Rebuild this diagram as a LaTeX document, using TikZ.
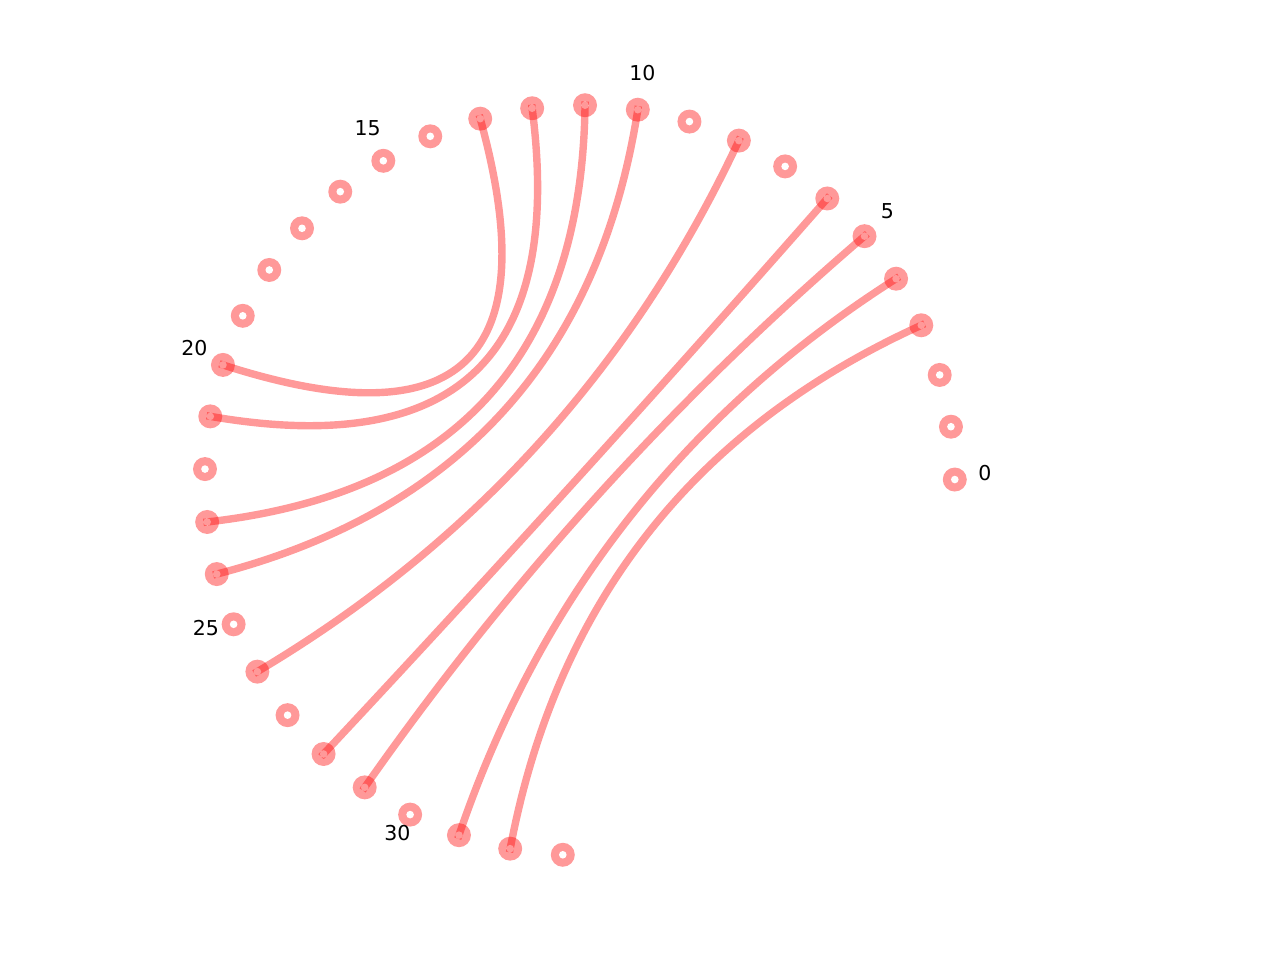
\documentclass[tikz,border=0pt]{standalone}
\usepackage{fontspec}
\setmainfont{DejaVu Sans}
\usetikzlibrary{calc}
\tikzset{
  vtx/.style={circle, fill=red, fill opacity=0.4, draw=none, minimum size=24pt, inner sep=0pt},
  hole/.style={fill=white},
  chord/.style={draw=red, draw opacity=0.4, line width=7.4pt, line cap=rect},
  lbl/.style={font=\fontsize{20.5}{24}\selectfont, inner sep=0pt, text=black}
}
\begin{document}
\begin{tikzpicture}[x=1pt,y=1pt]
\useasboundingbox (0,0) rectangle (1280,960);
\coordinate (C) at (579.8,479.8);
% nodes
\foreach \k in {0,...,33}{
  \node[vtx] (n\k) at ($(C)+({0.1+8.1*\k}:375)$) {};
}
\foreach \k in {0,...,33}{
  \fill[hole] (n\k.center) circle (3.8);
}
% chords (quadratic Bezier through the centre)
\foreach \a/\b in {13/20,12/21,11/23,10/24,8/26,6/28,5/29,4/31,3/32}{
  \draw[chord] (n\a.center) .. controls ($(n\a.center)!0.6667!(C)$) and ($(n\b.center)!0.6667!(C)$) .. (n\b.center);
}
% labels
\node[lbl] (l0)  at (985.0,487.3) {0};
\node[lbl] (l5)  at (887.3,749.3) {5};
\node[lbl] (l10) at (642.3,886.7) {10};
\node[lbl] (l15) at (367.7,832.3) {15};
\node[lbl] (l20) at (194.3,611.7) {20};
\node[lbl] (l25) at (206.0,331.7) {25};
\node[lbl] (l30) at (397.3,126.7) {30};
\end{tikzpicture}
\end{document}
